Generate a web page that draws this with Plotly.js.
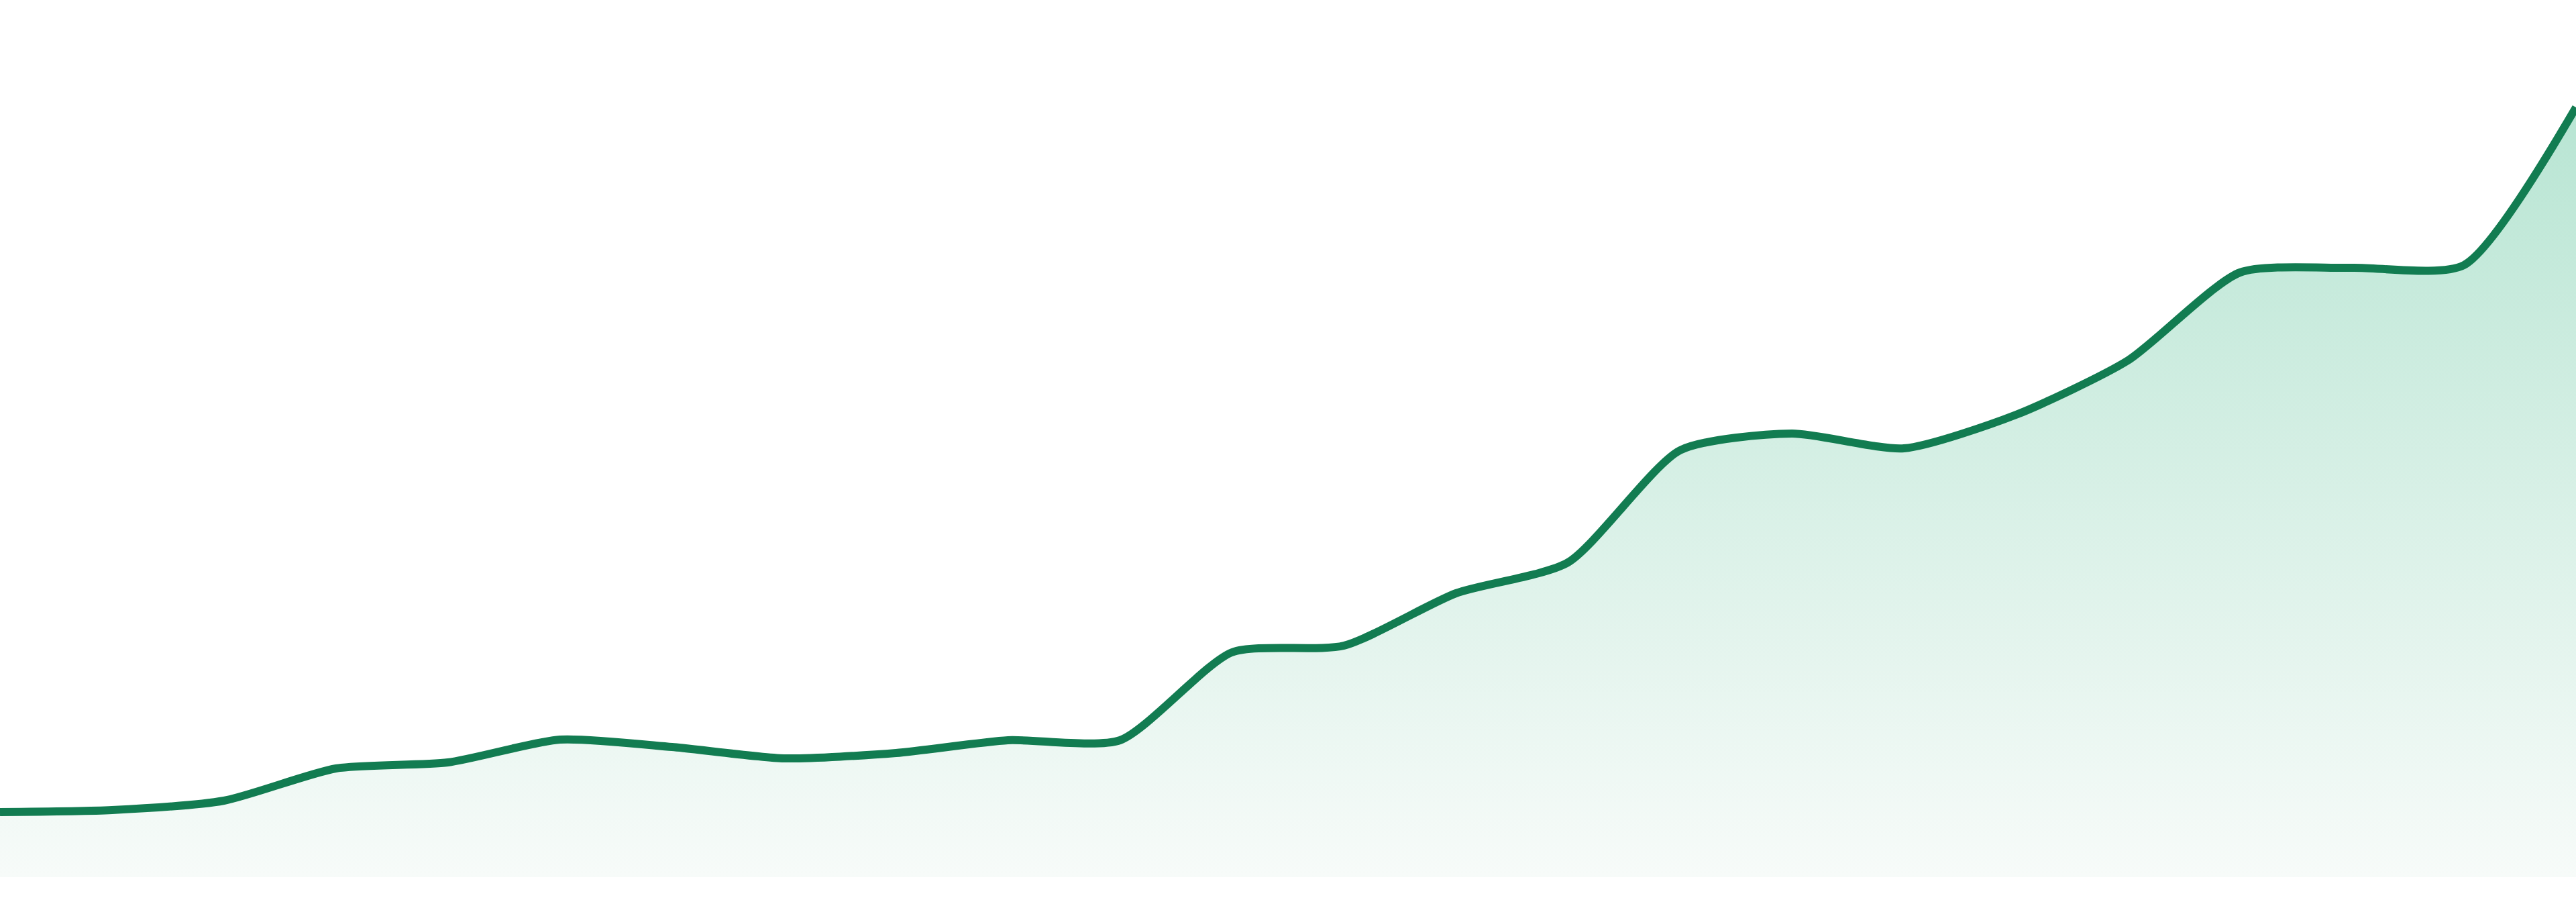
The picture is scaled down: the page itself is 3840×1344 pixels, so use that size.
<!DOCTYPE html>
<html>
<head>
<meta charset="utf-8">
<script src="https://cdn.plot.ly/plotly-3.0.1.min.js"></script>
<style>
  html, body { margin: 0; padding: 0; background: #ffffff; }
  #chart { width: 3840px; height: 1344px; }
</style>
</head>
<body>
<div id="chart"></div>
<script>
// Categories (24 periods, no visible labels in the reference)
const categories = [
  "Jan 2023", "Feb 2023", "Mar 2023", "Apr 2023", "May 2023", "Jun 2023",
  "Jul 2023", "Aug 2023", "Sep 2023", "Oct 2023", "Nov 2023", "Dec 2023",
  "Jan 2024", "Feb 2024", "Mar 2024", "Apr 2024", "May 2024", "Jun 2024",
  "Jul 2024", "Aug 2024", "Sep 2024", "Oct 2024", "Nov 2024", "Dec 2024"
];

// Series values (arbitrary units)
const values = [
  9.7, 10.0, 11.4, 16.2, 17.1, 20.5,
  19.4, 17.7, 18.5, 20.4, 20.4, 33.5,
  34.5, 42.3, 46.9, 63.6, 66.1, 63.9,
  68.9, 77.0, 90.1, 90.8, 91.2, 114.7
];

const yMax = 130.7;
const lineColor = "#127c51";
const fillTop = "rgb(184,229,211)";
const fillBottom = "rgb(247,251,249)";

const trace = {
  type: "scatter",
  mode: "lines",
  x: categories,
  y: values,
  line: { color: lineColor, width: 12, shape: "spline", smoothing: 0.65 },
  fill: "tozeroy",
  fillgradient: {
    type: "vertical",
    start: 0,
    stop: Math.max(...values),
    colorscale: [[0, fillBottom], [1, fillTop]]
  },
  hoverinfo: "skip",
  showlegend: false
};

const layout = {
  width: 3840,
  height: 1344,
  margin: { l: 0, r: 0, t: 0, b: 37, pad: 0 },
  paper_bgcolor: "#ffffff",
  plot_bgcolor: "#ffffff",
  showlegend: false,
  xaxis: {
    type: "category",
    range: [0, categories.length - 1],
    visible: false
  },
  yaxis: {
    range: [0, yMax],
    visible: false
  }
};

Plotly.newPlot("chart", [trace], layout, { staticPlot: true, displayModeBar: false });
</script>
</body>
</html>
